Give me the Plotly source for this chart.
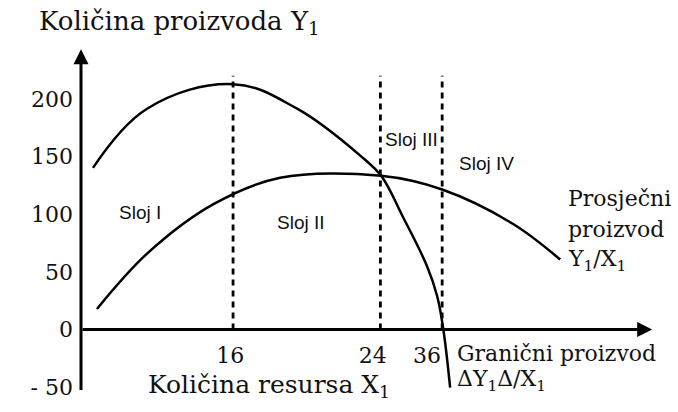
import plotly.graph_objects as go

# ---- data (schematic positions along the resource axis, output values) ----
# Granični proizvod (marginal product)
mp_x = [1.26, 6.95, 16.0, 22.74, 29.68, 31.58, 33.89, 36.42, 37.47, 38.11, 38.84]
mp_y = [140.2, 191.5, 212.8, 191.5, 148.7, 133.3, 97.4, 54.7, 29.1, 0.9, -50.4]

# Prosječni proizvod (average product)
ap_x = [1.68, 6.95, 13.89, 20.95, 31.58, 38.0, 45.47, 50.42]
ap_y = [17.9, 65.8, 108.5, 131.6, 133.3, 121.4, 91.5, 60.7]

layer_x = [16, 31.5, 38]
layer_top = 220
layer_names = ["Sloj I", "Sloj II", "Sloj III", "Sloj IV"]

y_ticks = [-50, 0, 50, 100, 150, 200]
y_tick_text = ["- 50", "0", "50", "100", "150", "200"]
x_tick_pos = [15.7, 30.7, 36.4]
x_tick_text = ["16", "24", "36"]

# ---- layout geometry ----
W, H = 678, 412
L, R, T, B = 81, 22, 47, 14
X_RANGE = [0, 60.5]
Y_RANGE = [-55, 245]


def px(xp):
    return (xp - L) / (W - L - R)


def py(yp):
    return (H - B - yp) / (H - T - B)


SERIF = "DejaVu Serif"
SANS = "Liberation Sans, Arial"
INK = "#111111"

fig = go.Figure()

fig.add_trace(go.Scatter(x=mp_x, y=mp_y, mode="lines",
                         line=dict(color="black", width=2.5, shape="spline", smoothing=1.1),
                         hoverinfo="skip", showlegend=False))
fig.add_trace(go.Scatter(x=ap_x, y=ap_y, mode="lines",
                         line=dict(color="black", width=2.5, shape="spline", smoothing=1.0),
                         hoverinfo="skip", showlegend=False))
for lx in layer_x:
    fig.add_trace(go.Scatter(x=[lx, lx], y=[0, layer_top], mode="lines",
                             line=dict(color="black", width=2.8, dash="6px,5px"),
                             hoverinfo="skip", showlegend=False))

annotations = []
# axis lines with arrow heads
annotations.append(dict(x=0, y=243, ax=0, ay=-53.8, xref="x", yref="y", axref="x", ayref="y",
                        text="", showarrow=True, arrowhead=2, arrowsize=1, arrowwidth=3,
                        arrowcolor="black", standoff=0, startstandoff=0))
annotations.append(dict(x=60.1, y=0, ax=0, ay=0, xref="x", yref="y", axref="x", ayref="y",
                        text="", showarrow=True, arrowhead=2, arrowsize=1, arrowwidth=3,
                        arrowcolor="black", standoff=0, startstandoff=0))


def label(text, x, y, size, family, xanchor="left", yanchor="middle"):
    annotations.append(dict(text=text, x=px(x), y=py(y), xref="paper", yref="paper",
                            xanchor=xanchor, yanchor=yanchor, showarrow=False,
                            font=dict(family=family, size=size, color=INK)))


label("Količina proizvoda Y<sub>1</sub>", 37, 22, 26, SERIF)
label("Količina resursa X<sub>1</sub>", 146, 391, 25, SERIF)

layer_centers = [(140, 215), (301, 225), (411, 141), (486, 165)]
for name, (cx, cy) in zip(layer_names, layer_centers):
    label(name, cx, cy, 19, SANS, xanchor="center")

label("Prosječni", 566, 201, 22, SERIF)
label("proizvod", 566, 232, 22, SERIF)
label("Y<sub>1</sub>/X<sub>1</sub>", 566, 264, 22, SERIF)
label("Granični proizvod", 455, 358, 22, SERIF)
label("ΔY<sub>1</sub>Δ/X<sub>1</sub>", 455, 385, 22, SERIF)

fig.update_layout(
    width=W, height=H,
    margin=dict(l=L, r=R, t=T, b=B, pad=0),
    paper_bgcolor="white", plot_bgcolor="white",
    showlegend=False,
    annotations=annotations,
    xaxis=dict(range=X_RANGE, showgrid=False, zeroline=False, showline=False,
               tickmode="array", tickvals=x_tick_pos, ticktext=x_tick_text, ticks="",
               tickfont=dict(family=SERIF, size=22, color=INK),
               anchor="free", position=py(334), ticklabelstandoff=10, fixedrange=True),
    yaxis=dict(range=Y_RANGE, showgrid=False, zeroline=False, showline=False,
               tickmode="array", tickvals=y_ticks, ticktext=y_tick_text, ticks="",
               tickfont=dict(family=SERIF, size=22, color=INK),
               ticklabelstandoff=7, fixedrange=True),
)

fig.write_html(
    "out.html",
    config={"displayModeBar": False, "staticPlot": True},
    post_script="document.body.style.margin='0';document.body.style.overflow='hidden';",
)
